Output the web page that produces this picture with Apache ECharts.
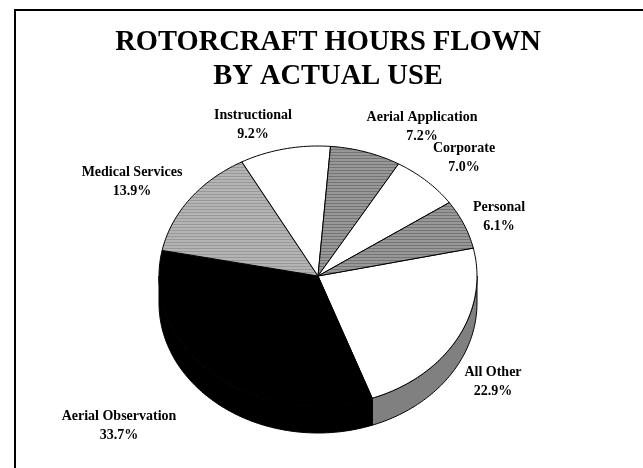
<!DOCTYPE html>
<html><head><meta charset="utf-8">
<style>html,body{margin:0;padding:0;background:#fff}#c{width:643px;height:468px}</style>
<script src="https://cdn.jsdelivr.net/npm/echarts@6/dist/echarts.min.js"></script>
</head><body><div id="c"></div>
<script>
const categories = ['All Other','Aerial Observation','Medical Services','Instructional','Aerial Application','Corporate','Personal'];
const values = [22.9,33.7,13.9,9.2,7.2,7.0,6.1];
const fills = ['white','black','light','white','dark','white','dark'];
const labelAnchors = [[493,382],[119,426],[132,182],[253,125],[422,127],[464,158],[499,217]];

function stripes(a,b){
  const cv=document.createElement('canvas');cv.width=3;cv.height=3;
  const g=cv.getContext('2d');g.fillStyle=a;g.fillRect(0,0,3,3);g.fillStyle=b;g.fillRect(0,2,3,1);
  return {image:cv,repeat:'repeat'};
}
const paints={white:'#fff',black:'#000',light:stripes('#b4b4b4','#989898'),dark:stripes('#989898','#747474')};
const cx=318,cy=276,rx=159,ry=130,depth=27,startAngle=12.4;
const total=values.reduce((a,b)=>a+b,0);
function pt(deg){const r=deg*Math.PI/180;return [cx+rx*Math.cos(r),cy+ry*Math.sin(r)];}
function arc(a,b){const n=Math.max(2,Math.ceil(Math.abs(b-a)));const p=[];for(let i=0;i<=n;i++)p.push(pt(a+(b-a)*i/n));return p;}

const chart=echarts.init(document.getElementById('c'),null,{renderer:'canvas'});
const data=categories.map((n,i)=>({name:n,value:values[i]}));
chart.setOption({
  animation:false,
  graphic:[
    {type:'polyline',shape:{points:[[15,468],[15,10],[643,10]]},style:{fill:null,stroke:'#000',lineWidth:2},silent:true},
    {type:'text',silent:true,style:{text:'ROTORCRAFT HOURS FLOWN\nBY ACTUAL USE',x:328,y:60,align:'center',verticalAlign:'middle',
      fontFamily:'Liberation Serif',fontWeight:'bold',fontSize:28.5,lineHeight:34,fill:'#000'}}
  ],
  series:[{
    type:'custom',coordinateSystem:'none',data:data,silent:true,
    renderItem(params,api){
      const i=params.dataIndex;
      let s=-startAngle;for(let k=0;k<i;k++)s+=values[k]/total*360;
      const e=s+values[i]/total*360;
      const children=[];
      const a=Math.max(s,0),b=Math.min(e,180);
      if(b>a){
        const top=arc(a,b),bot=top.map(p=>[p[0],p[1]+depth]).reverse();
        children.push({type:'polygon',shape:{points:top.concat(bot)},
          style:{fill:i===0?'#808080':'#000',stroke:'#000',lineWidth:1}});
      }
      children.push({type:'polygon',shape:{points:[[cx,cy]].concat(arc(s,e))},
        style:{fill:paints[fills[i]],stroke:'#000',lineWidth:1}});
      children.push({type:'text',style:{text:categories[i]+'\n'+values[i].toFixed(1)+'%',
        x:labelAnchors[i][0],y:labelAnchors[i][1],align:'center',verticalAlign:'middle',
        fontFamily:'Liberation Serif',fontWeight:'bold',fontSize:14,lineHeight:19,fill:'#000'},z2:10});
      return {type:'group',children};
    }
  }]
});
</script></body></html>
